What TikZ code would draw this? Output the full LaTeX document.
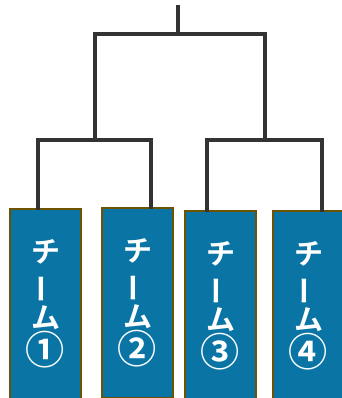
\documentclass[tikz,border=0pt]{standalone}
\usepackage{fontspec}
\newfontfamily\jpfont{Noto Sans CJK JP}[BoldFont={Noto Sans CJK JP Bold}]
\usetikzlibrary{calc,positioning}
\definecolor{teamblue}{HTML}{0A75A5}
\definecolor{teamrim}{HTML}{6E5200}
\definecolor{bracketgray}{HTML}{333333}
\newcommand{\teamname}[1]{チ\\\rotatebox[origin=c]{90}{ー}\\ム\\\scalebox{1.35}{#1}}
\begin{document}
\begin{tikzpicture}[x=1pt,y=-1pt,
      Team/.style={
        draw=teamrim, fill=teamblue, line width=1.8pt,
        minimum width=71pt, minimum height=190pt, anchor=north,
        text=white, align=center, inner sep=0pt,
        font=\jpfont\bfseries\fontsize{29}{33}\selectfont,
      },
      Bracket/.style={draw=bracketgray, line width=4pt, line cap=rect},
      ]
      \useasboundingbox (0,0) rectangle (341,398);

      \node[Team] (team1) at (45.5, 208) {\teamname{①}};
      \node[Team] (team2) at (137.5, 207) {\teamname{②}};
      \node[Team] (team3) at (220.5, 210) {\teamname{③}};
      \node[Team] (team4) at (308.5, 210) {\teamname{④}};

      \coordinate (leg1) at (38, 140);
      \coordinate (leg2) at (151, 140);
      \coordinate (leg3) at (207, 140);
      \coordinate (leg4) at (322, 140);
      \coordinate (semiA) at (94.5, 140);
      \coordinate (semiB) at (264.5, 140);
      \coordinate (final) at (178, 34);
      \coordinate (champ) at (178, 7);

      % first round
      \draw[Bracket] (leg1 |- team1.north) -- (leg1) -- (leg2) -- (leg2 |- team2.north);
      \draw[Bracket] (leg3 |- team3.north) -- (leg3) -- (leg4) -- (leg4 |- team4.north);
      % final
      \draw[Bracket] (semiA) |- (final) -| (semiB);
      \draw[Bracket] (final) -- (champ);
    \end{tikzpicture}
\end{document}
